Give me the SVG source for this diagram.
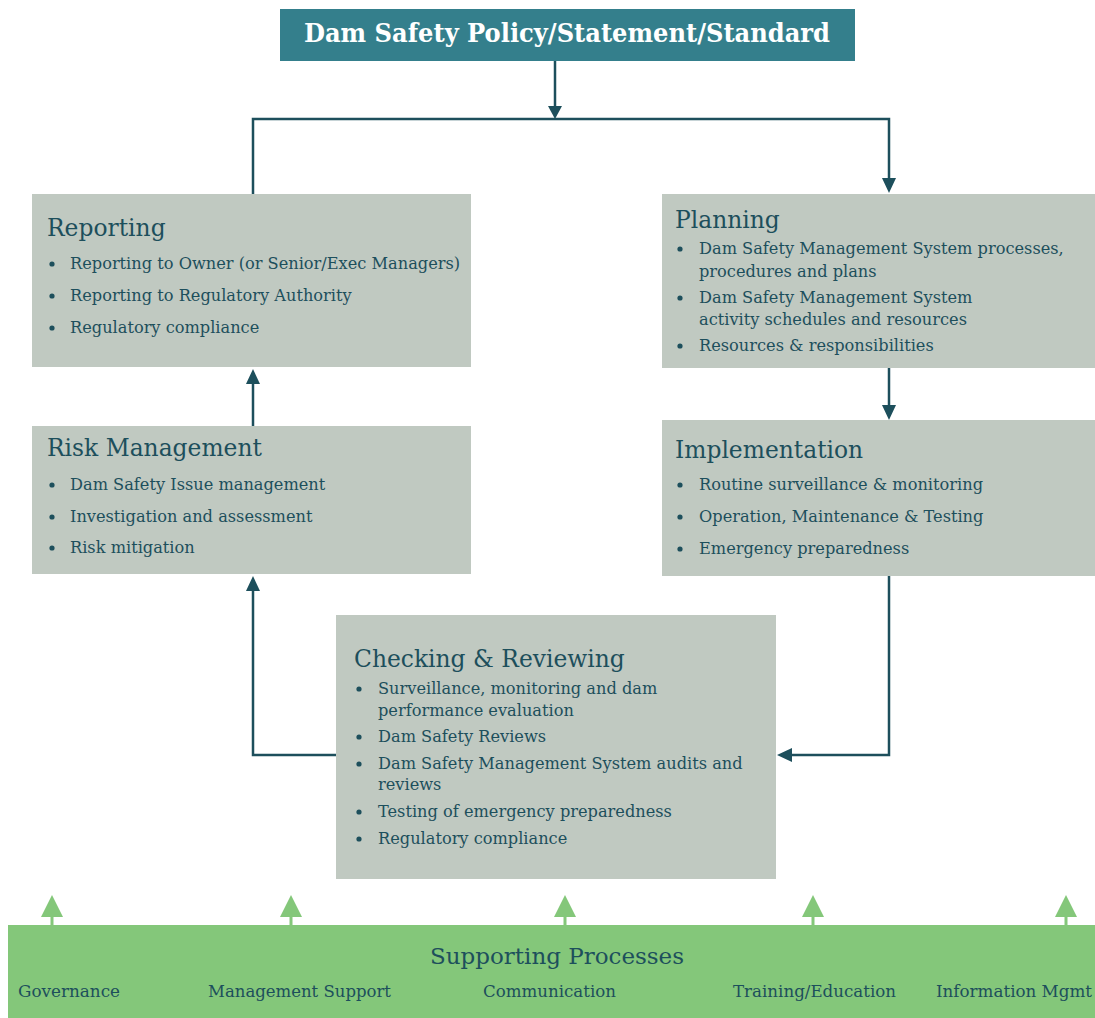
<svg xmlns="http://www.w3.org/2000/svg" width="1095" height="1018" viewBox="0 0 1095 1018">
<defs>
<style>
.box{fill:#c0c9c1}
.ttl{font-family:"DejaVu Serif","Liberation Serif",serif;font-size:23.4px;fill:#1d4f5c}
.itm{font-family:"DejaVu Serif","Liberation Serif",serif;font-size:16.2px;fill:#1d4f5c}
.dot{fill:#1d4f5c}
.con{fill:none;stroke:#1d4f5c;stroke-width:2.5}
.sup{fill:none;stroke:#84c77a;stroke-width:3}
.lbl{font-family:"DejaVu Serif Condensed","DejaVu Serif",serif;font-size:16.5px;fill:#1d4f5c}
</style>
</defs>
<rect width="1095" height="1018" fill="#ffffff"/>

<g id="connectors">
<path class="con" d="M555,61 V108"/>
<path d="M548,106 L562,106 L555,119 z" fill="#1d4f5c"/>
<path class="con" d="M253,194 V119 H889 V180"/>
<path d="M882,178 L896,178 L889,193 z" fill="#1d4f5c"/>
<path class="con" d="M889,368 V407"/>
<path d="M882,405 L896,405 L889,420 z" fill="#1d4f5c"/>
<path class="con" d="M253,426 V382"/>
<path d="M246,384 L260,384 L253,369 z" fill="#1d4f5c"/>
<path class="con" d="M336,755 H253 V589"/>
<path d="M246,591 L260,591 L253,576 z" fill="#1d4f5c"/>
<path class="con" d="M889,576 V755 H790"/>
<path d="M792,748 L792,762 L777,755 z" fill="#1d4f5c"/>
</g>

<g id="policy">
<rect x="280" y="9" width="575" height="52" fill="#347f8c"/>
<text x="567" y="42" text-anchor="middle" font-family="DejaVu Serif, Liberation Serif, serif" font-size="26" font-weight="bold" fill="#ffffff" textLength="526" lengthAdjust="spacingAndGlyphs">Dam Safety Policy/Statement/Standard</text>
</g>

<g id="reporting">
<rect class="box" x="32" y="194" width="439" height="173"/>
<text class="ttl" x="47" y="236">Reporting</text>
<circle class="dot" cx="52" cy="264" r="2.6"/>
<text class="itm" x="70" y="269">Reporting to Owner (or Senior/Exec Managers)</text>
<circle class="dot" cx="52" cy="296" r="2.6"/>
<text class="itm" x="70" y="301">Reporting to Regulatory Authority</text>
<circle class="dot" cx="52" cy="328" r="2.6"/>
<text class="itm" x="70" y="333">Regulatory compliance</text>
</g>

<g id="planning">
<rect class="box" x="662" y="194" width="433" height="174"/>
<text class="ttl" x="675" y="228">Planning</text>
<circle class="dot" cx="680" cy="249" r="2.6"/>
<text class="itm" x="699" y="254">Dam Safety Management System processes,</text>
<text class="itm" x="699" y="277">procedures and plans</text>
<circle class="dot" cx="680" cy="298" r="2.6"/>
<text class="itm" x="699" y="303">Dam Safety Management System</text>
<text class="itm" x="699" y="325">activity schedules and resources</text>
<circle class="dot" cx="680" cy="346" r="2.6"/>
<text class="itm" x="699" y="351">Resources &amp; responsibilities</text>
</g>

<g id="risk">
<rect class="box" x="32" y="426" width="439" height="148"/>
<text class="ttl" x="47" y="456">Risk Management</text>
<circle class="dot" cx="52" cy="485" r="2.6"/>
<text class="itm" x="70" y="490">Dam Safety Issue management</text>
<circle class="dot" cx="52" cy="517" r="2.6"/>
<text class="itm" x="70" y="522">Investigation and assessment</text>
<circle class="dot" cx="52" cy="548" r="2.6"/>
<text class="itm" x="70" y="553">Risk mitigation</text>
</g>

<g id="implementation">
<rect class="box" x="662" y="420" width="433" height="156"/>
<text class="ttl" x="675" y="458">Implementation</text>
<circle class="dot" cx="680" cy="485" r="2.6"/>
<text class="itm" x="699" y="490">Routine surveillance &amp; monitoring</text>
<circle class="dot" cx="680" cy="517" r="2.6"/>
<text class="itm" x="699" y="522">Operation, Maintenance &amp; Testing</text>
<circle class="dot" cx="680" cy="549" r="2.6"/>
<text class="itm" x="699" y="554">Emergency preparedness</text>
</g>

<g id="checking">
<rect class="box" x="336" y="615" width="440" height="264"/>
<text class="ttl" x="354" y="667">Checking &amp; Reviewing</text>
<circle class="dot" cx="359" cy="689" r="2.6"/>
<text class="itm" x="378" y="694">Surveillance, monitoring and dam</text>
<text class="itm" x="378" y="716">performance evaluation</text>
<circle class="dot" cx="359" cy="737" r="2.6"/>
<text class="itm" x="378" y="742">Dam Safety Reviews</text>
<circle class="dot" cx="359" cy="764" r="2.6"/>
<text class="itm" x="378" y="769">Dam Safety Management System audits and</text>
<text class="itm" x="378" y="790">reviews</text>
<circle class="dot" cx="359" cy="812" r="2.6"/>
<text class="itm" x="378" y="817">Testing of emergency preparedness</text>
<circle class="dot" cx="359" cy="839" r="2.6"/>
<text class="itm" x="378" y="844">Regulatory compliance</text>
</g>

<g id="supporting">
<path class="sup" d="M52,925 V912 M291,925 V912 M565,925 V912 M813,925 V912 M1066,925 V912"/>
<path fill="#84c77a" d="M41,917 L63,917 L52,895 z M280,917 L302,917 L291,895 z M554,917 L576,917 L565,895 z M802,917 L824,917 L813,895 z M1055,917 L1077,917 L1066,895 z"/>
<rect x="8" y="925" width="1087" height="93" fill="#84c77a"/>
<text x="557" y="964" text-anchor="middle" font-family="DejaVu Serif Condensed, DejaVu Serif, serif" font-size="23" fill="#1d4f5c" textLength="254" lengthAdjust="spacingAndGlyphs">Supporting Processes</text>
<text class="lbl" x="18" y="997" textLength="102" lengthAdjust="spacingAndGlyphs">Governance</text>
<text class="lbl" x="208" y="997" textLength="183" lengthAdjust="spacingAndGlyphs">Management Support</text>
<text class="lbl" x="483" y="997" textLength="133" lengthAdjust="spacingAndGlyphs">Communication</text>
<text class="lbl" x="733" y="997" textLength="163" lengthAdjust="spacingAndGlyphs">Training/Education</text>
<text class="lbl" x="936" y="997" textLength="156" lengthAdjust="spacingAndGlyphs">Information Mgmt</text>
</g>
</svg>
